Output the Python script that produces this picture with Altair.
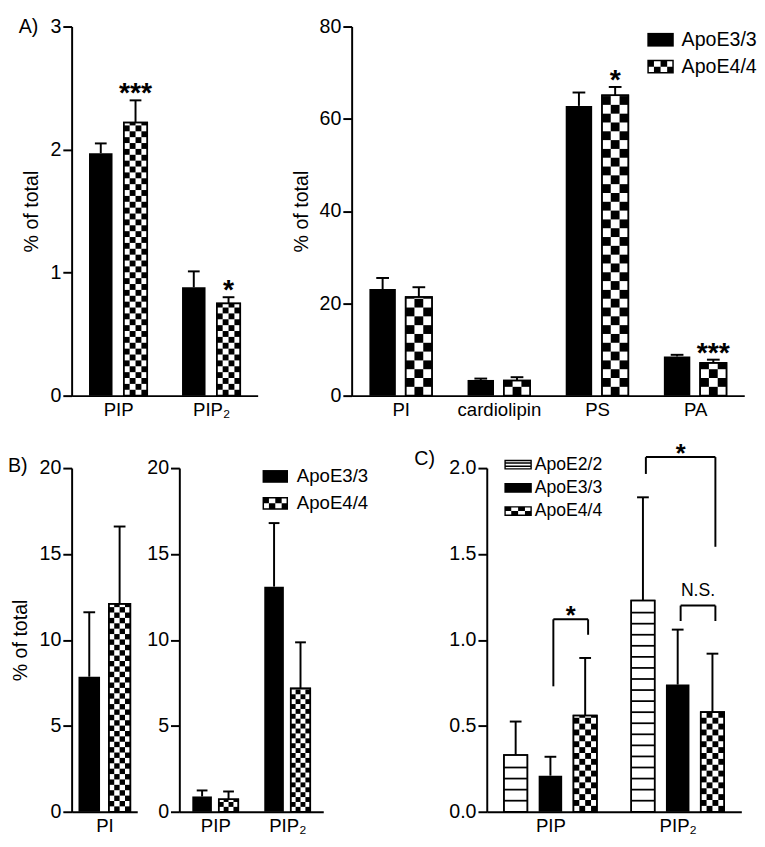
import json
import numpy as np
import pandas as pd
import altair as alt

FONT = "Liberation Sans, Arial, Helvetica, sans-serif"

# ---------------- data ----------------
# Panel A, left
a1_categories = ["PIP", "PIP₂"]
a1_apoe33 = [1.97, 0.88]
a1_apoe33_err = [0.08, 0.13]
a1_apoe44 = [2.22, 0.75]
a1_apoe44_err = [0.18, 0.05]
a1_sig44 = ["***", "*"]

# Panel A, right
a2_categories = ["PI", "cardiolipin", "PS", "PA"]
a2_apoe33 = [23.1, 3.4, 62.8, 8.5]
a2_apoe33_err = [2.4, 0.3, 2.9, 0.35]
a2_apoe44 = [21.4, 3.3, 65.1, 7.1]
a2_apoe44_err = [2.1, 0.7, 1.8, 0.7]
a2_sig44 = ["", "", "*", "***"]

# Panel B, left
b1_categories = ["PI"]
b1_apoe33 = [7.86]
b1_apoe33_err = [3.75]
b1_apoe44 = [12.1]
b1_apoe44_err = [4.5]

# Panel B, right
b2_categories = ["PIP", "PIP₂"]
b2_apoe33 = [0.89, 13.1]
b2_apoe33_err = [0.35, 3.7]
b2_apoe44 = [0.73, 7.18]
b2_apoe44_err = [0.45, 2.68]

# Panel C
c_categories = ["PIP", "PIP₂"]
c_apoe22 = [0.33, 1.23]
c_apoe22_err = [0.195, 0.60]
c_apoe33 = [0.21, 0.74]
c_apoe33_err = [0.11, 0.32]
c_apoe44 = [0.56, 0.58]
c_apoe44_err = [0.335, 0.34]

# significance brackets in C: category, group a, group b, label, top, left-leg bottom, right-leg bottom
c_brackets = [
    ("PIP", "ApoE3/3", "ApoE4/4", "*", 1.12, 0.73, 1.03),
    ("PIP₂", "ApoE2/2", "ApoE4/4", "*", 2.064, 1.966, 1.542),
    ("PIP₂", "ApoE3/3", "ApoE4/4", "N.S.", 1.20, 1.11, 1.11),
]


# ---------------- legend symbol shapes (unit square paths) ----------------
def _r(x0, y0, x1, y1):
    return f"M{x0:.3f},{y0:.3f}L{x1:.3f},{y0:.3f}L{x1:.3f},{y1:.3f}L{x0:.3f},{y1:.3f}Z"


def _ring(hh, t):
    outer = _r(-1, -hh, 1, hh)
    a, b = -1 + t, 1 - t
    c, d = -hh + t, hh - t
    inner = f"M{a:.3f},{c:.3f}L{a:.3f},{d:.3f}L{b:.3f},{d:.3f}L{b:.3f},{c:.3f}Z"
    return outer + inner


def solid_sym(hh):
    return _r(-1, -hh, 1, hh)


def checker_sym(hh, t, cols=4, rows=2):
    p = _ring(hh, t)
    cw, chh = 2.0 / cols, 2.0 * hh / rows
    for r in range(rows):
        for c in range(cols):
            if (r + c) % 2 == 0:
                x0, y0 = -1 + c * cw, -hh + r * chh
                p += _r(x0, y0, x0 + cw, y0 + chh)
    return p


def stripes_sym(hh, t, nlines=2, lt=0.11):
    p = _ring(hh, t)
    for k in range(1, nlines + 1):
        y = -hh + k * 2 * hh / (nlines + 1)
        p += _r(-1, y - lt / 2, 1, y + lt / 2)
    return p


def build_panel(cats, series, spec, ytitle=None, title_x=-50, label=None,
                legend=None, brackets=None):
    n = len(cats)
    W, H, ymax = spec["w"], spec["h"], spec["ymax"]
    ux = n / W
    uy = ymax / H
    k = len(series)
    bw = spec["bar"] * ux
    sep = spec["sep"] * ux
    capw = spec["cap"] * ux
    ncols = spec["ncols"]
    cw = bw / ncols
    ch = (spec["bar"] / ncols) * uy

    bars, cells, stripes, sig = [], [], [], []
    centers = {}
    for j, s in enumerate(series):
        off = (j - (k - 1) / 2) * sep
        for i, cat in enumerate(cats):
            v, e = s["values"][i], s["errs"][i]
            cx = i + 0.5 + off
            centers[(cat, s["name"])] = cx
            x0, x1 = cx - bw / 2, cx + bw / 2
            bars.append(dict(grp=s["name"], style=s["style"], x0=x0, x1=x1, cx=cx,
                              y0=0.0, v=v, top=v + e, c0=cx - capw / 2, c1=cx + capw / 2))
            if s["style"] == "checker":
                nrows = int(np.ceil(v / ch - 1e-9))
                for r in range(nrows):
                    y0, y1 = r * ch, min(v, (r + 1) * ch)
                    for c in range(ncols):
                        if (r + c) % 2 == 1:
                            cells.append(dict(x0=x0 + c * cw, x1=x0 + (c + 1) * cw, y0=y0, y1=y1))
            if s["style"] == "stripes":
                step = spec["stripe"] * uy
                y = step
                while y < v - 0.3 * step:
                    stripes.append(dict(x0=x0, x1=x1, y=y))
                    y += step
            if s.get("sig") and s["sig"][i]:
                sig.append(dict(cx=cx, top=v + e, t=s["sig"][i]))

    xscale = alt.Scale(domain=[0, n], nice=False, zero=False)
    yscale = alt.Scale(domain=[0, ymax], nice=False)
    xaxis = alt.Axis(values=[i + 0.5 for i in range(n)],
                     labelExpr=f"{json.dumps(cats, ensure_ascii=False)}[floor(datum.value)]",
                     ticks=False, grid=False, title=None, domainColor="black", domainWidth=2,
                     labelFontSize=19, labelColor="black", labelPadding=5, labelFont=FONT,
                     labelFlush=False, labelOverlap=False)
    ykw = dict(values=spec["yticks"], format=spec["fmt"],
               tickSize=9, tickWidth=2, tickColor="black", domainColor="black",
               domainWidth=2, labelFontSize=20, labelColor="black", labelPadding=2,
               labelFont=FONT, grid=False)
    if ytitle:
        ykw.update(title=ytitle, titleFont=FONT, titleFontSize=20, titleFontWeight="normal",
                   titleColor="black", titleX=title_x, titleY=H / 2, titleAngle=270,
                   titleAlign="center", titleBaseline="middle")
    else:
        ykw.update(title=None)
    yaxis = alt.Axis(**ykw)

    def X(f):
        return alt.X(f"{f}:Q", scale=xscale, axis=xaxis)

    def Y(f):
        return alt.Y(f"{f}:Q", scale=yscale, axis=yaxis)

    bdf = pd.DataFrame(bars)
    white = bdf[bdf["style"] != "solid"]
    black = bdf[bdf["style"] == "solid"]
    layers = []
    if len(white):
        layers.append(alt.Chart(white).mark_rect(fill="white", stroke="black", strokeWidth=1.5)
                      .encode(x=X("x0"), x2="x1", y=Y("y0"), y2="v"))
    if len(black):
        layers.append(alt.Chart(black).mark_rect(color="black")
                      .encode(x=X("x0"), x2="x1", y=Y("y0"), y2="v"))
    if cells:
        layers.append(alt.Chart(pd.DataFrame(cells)).mark_rect(color="black")
                      .encode(x=X("x0"), x2="x1", y=Y("y0"), y2="y1"))
    if stripes:
        layers.append(alt.Chart(pd.DataFrame(stripes)).mark_rule(color="black", strokeWidth=1.8)
                      .encode(x=X("x0"), x2="x1", y=Y("y")))
    if len(white):
        layers.append(alt.Chart(white).mark_rect(fillOpacity=0, stroke="black", strokeWidth=1.6)
                      .encode(x=X("x0"), x2="x1", y=Y("y0"), y2="v"))
    layers.append(alt.Chart(bdf).mark_rule(color="black", strokeWidth=2)
                  .encode(x=X("cx"), y=Y("v"), y2="top"))
    layers.append(alt.Chart(bdf).mark_rule(color="black", strokeWidth=2)
                  .encode(x=X("c0"), x2="c1", y=Y("top")))
    if sig:
        layers.append(alt.Chart(pd.DataFrame(sig))
                      .mark_text(font=FONT, fontSize=29, fontWeight="bold", baseline="alphabetic",
                                 dy=2, color="black")
                      .encode(x=X("cx"), y=Y("top"), text="t:N"))
    if brackets:
        legs, hz, stars, words = [], [], [], []
        d = 3 * ux
        for cat, ga, gb, lab, top, bl, br in brackets:
            xl, xr = centers[(cat, ga)] + d, centers[(cat, gb)] + d
            legs.append(dict(x=xl, y=bl, y2=top))
            legs.append(dict(x=xr, y=br, y2=top))
            hz.append(dict(x=xl, x2=xr, y=top))
            (stars if lab.startswith("*") else words).append(dict(x=(xl + xr) / 2, y=top, t=lab))
        layers.append(alt.Chart(pd.DataFrame(legs)).mark_rule(color="black", strokeWidth=2)
                      .encode(x=X("x"), y=Y("y"), y2="y2"))
        layers.append(alt.Chart(pd.DataFrame(hz)).mark_rule(color="black", strokeWidth=2)
                      .encode(x=X("x"), x2="x2", y=Y("y")))
        if stars:
            layers.append(alt.Chart(pd.DataFrame(stars))
                          .mark_text(font=FONT, fontSize=26, fontWeight="bold",
                                     baseline="alphabetic", dy=5, color="black")
                          .encode(x=X("x"), y=Y("y"), text="t:N"))
        if words:
            layers.append(alt.Chart(pd.DataFrame(words))
                          .mark_text(font=FONT, fontSize=18, baseline="alphabetic", dy=-10,
                                     color="black")
                          .encode(x=X("x"), y=Y("y"), text="t:N"))
    if label:
        txt, lx, ly = label
        layers.append(alt.Chart(pd.DataFrame({"t": [txt]}))
                      .mark_text(font=FONT, fontSize=20, align="left", baseline="top",
                                 color="black")
                      .encode(x=alt.value(lx), y=alt.value(ly), text="t:N"))
    if legend:
        names = [s["name"] for s in series]
        ldf = pd.DataFrame({legend["field"]: names, "lx": [0.0] * k, "ly": [0.0] * k})
        layers.append(alt.Chart(ldf).transform_filter("false")
                      .mark_point(filled=True, color="black", opacity=1)
                      .encode(x=X("lx"), y=Y("ly"),
                              shape=alt.Shape(f"{legend['field']}:N",
                                              scale=alt.Scale(domain=names, range=legend["shapes"]),
                                              legend=alt.Legend(
                                                  title=None, orient="none",
                                                  legendX=legend["x"], legendY=legend["y"],
                                                  symbolSize=legend["size"],
                                                  symbolStrokeWidth=0,
                                                  symbolFillColor="black",
                                                  symbolOpacity=1,
                                                  labelFont=FONT,
                                                  labelFontSize=legend["font"],
                                                  labelColor="black",
                                                  labelOffset=legend["offset"],
                                                  rowPadding=legend["rowpad"],
                                                  padding=0))))
    return alt.layer(*layers).properties(width=W, height=H)


# ---------------- panels ----------------
A1 = build_panel(
    a1_categories,
    [dict(name="ApoE3/3", values=a1_apoe33, errs=a1_apoe33_err, style="solid"),
     dict(name="ApoE4/4", values=a1_apoe44, errs=a1_apoe44_err, style="checker", sig=a1_sig44)],
    dict(w=190, h=377, ymax=3, yticks=[0, 1, 2, 3], fmt="d", bar=24, sep=35.5, cap=12, ncols=4),
    ytitle="% of total", title_x=-41, label=("A)", -54, -9))

A2 = build_panel(
    a2_categories,
    [dict(name="ApoE3/3", values=a2_apoe33, errs=a2_apoe33_err, style="solid"),
     dict(name="ApoE4/4", values=a2_apoe44, errs=a2_apoe44_err, style="checker", sig=a2_sig44)],
    dict(w=401, h=377, ymax=80, yticks=[0, 20, 40, 60, 80], fmt="d", bar=27, sep=37, cap=13,
         ncols=3),
    ytitle="% of total", title_x=-51,
    legend=dict(field="grpA", x=302, y=0, size=729, font=20, offset=8, rowpad=3.5,
                shapes=[solid_sym(0.519), checker_sym(0.519, 0.111)]))

B1 = build_panel(
    b1_categories,
    [dict(name="ApoE3/3", values=b1_apoe33, errs=b1_apoe33_err, style="solid"),
     dict(name="ApoE4/4", values=b1_apoe44, errs=b1_apoe44_err, style="checker")],
    dict(w=67, h=351, ymax=20, yticks=[0, 5, 10, 15, 20], fmt="d", bar=22, sep=31, cap=12,
         ncols=4),
    ytitle="% of total", title_x=-52, label=("B)", -65, -12))

B2 = build_panel(
    b2_categories,
    [dict(name="ApoE3/3", values=b2_apoe33, errs=b2_apoe33_err, style="solid"),
     dict(name="ApoE4/4", values=b2_apoe44, errs=b2_apoe44_err, style="checker")],
    dict(w=147, h=351, ymax=20, yticks=[0, 5, 10, 15, 20], fmt="d", bar=20, sep=27, cap=11,
         ncols=4),
    legend=dict(field="grpB", x=85, y=-4.5, size=676, font=19, offset=9, rowpad=4.5,
                shapes=[solid_sym(0.5), checker_sym(0.5, 0.115)]))

C = build_panel(
    c_categories,
    [dict(name="ApoE2/2", values=c_apoe22, errs=c_apoe22_err, style="stripes"),
     dict(name="ApoE3/3", values=c_apoe33, errs=c_apoe33_err, style="solid"),
     dict(name="ApoE4/4", values=c_apoe44, errs=c_apoe44_err, style="checker")],
    dict(w=260, h=351, ymax=2.0, yticks=[0, 0.5, 1.0, 1.5, 2.0], fmt=".1f", bar=24, sep=35.5,
         cap=12, ncols=4, stripe=11.3),
    label=("C)", -74, -19), brackets=c_brackets,
    legend=dict(field="grpC", x=18, y=-17.5, size=784, font=18, offset=3, rowpad=0.7,
                shapes=[stripes_sym(0.357, 0.1, 2, 0.1), solid_sym(0.357),
                        checker_sym(0.357, 0.1)]))

spacer = (alt.Chart(pd.DataFrame({"s": [""]})).mark_text(text="")
          .encode(x=alt.value(0), y=alt.value(0)).properties(width=81, height=351))

top = (alt.hconcat(A1, A2, spacing=96, bounds="flush")
       .resolve_scale(x="independent", y="independent", shape="independent")
       .resolve_legend(shape="independent"))
bottom = (alt.hconcat(B1, B2, spacer, C, spacing=43, bounds="flush")
          .resolve_scale(x="independent", y="independent", shape="independent")
          .resolve_legend(shape="independent"))

chart = (alt.vconcat(top, bottom, spacing=22)
         .resolve_scale(x="independent", y="independent", shape="independent")
         .resolve_legend(shape="independent")
         .properties(padding=0)
         .configure(font=FONT)
         .configure_view(stroke=None))

chart.save("out.html", embed_options={"renderer": "svg", "actions": False})
